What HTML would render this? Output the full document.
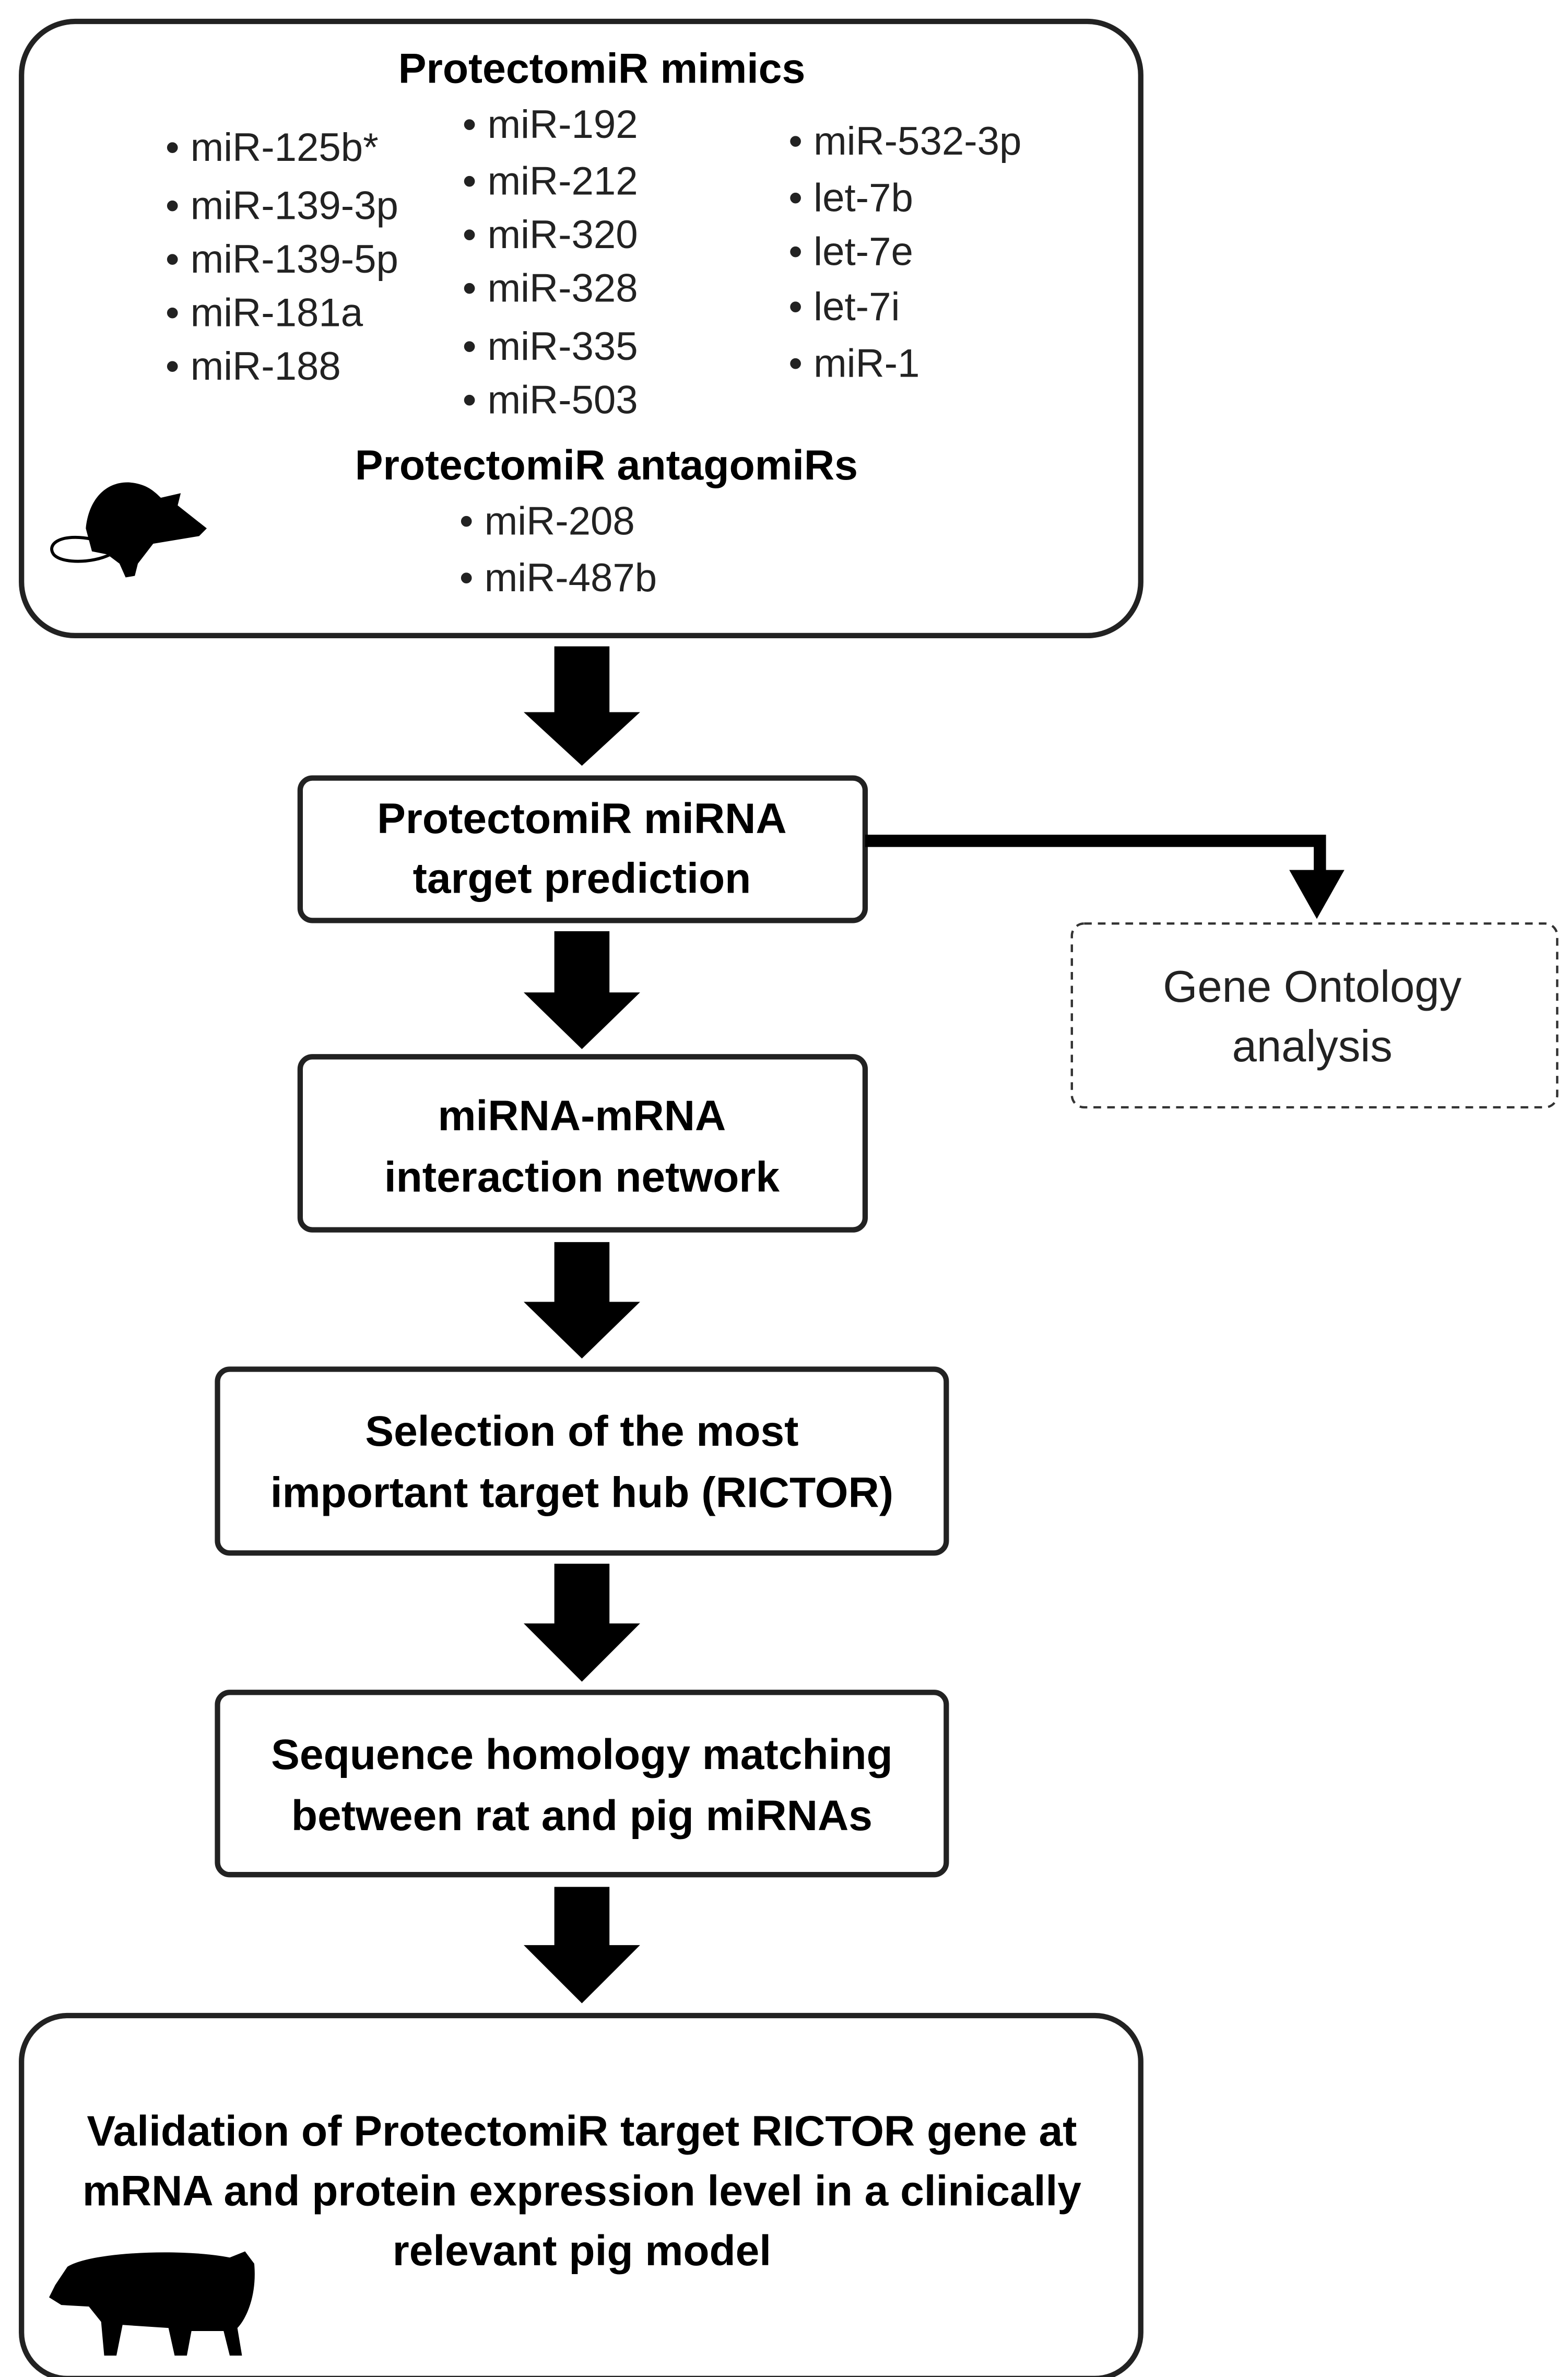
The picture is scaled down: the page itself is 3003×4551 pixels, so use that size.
<!DOCTYPE html>
<html><head><meta charset="utf-8"><style>
html,body{margin:0;padding:0;background:#fff;}
svg{display:block;}
text{font-family:"Liberation Sans",sans-serif;fill:#000;}
.b{font-weight:bold;font-size:28px;}
.h{font-weight:bold;font-size:27.5px;}
.n{font-size:26px;fill:#222;}
</style></head><body>
<svg width="3003" height="4551" viewBox="0 0 1024 1552" xmlns="http://www.w3.org/2000/svg">
<rect width="1024" height="1552" fill="#fff"/>
<rect x="14" y="14" width="731" height="401" rx="35" fill="#fff" stroke="#222" stroke-width="3.5"/>
<text class="h" x="393" y="54" text-anchor="middle">ProtectomiR mimics</text>
<text class="n" x="108" y="105">• miR-125b*</text>
<text class="n" x="108" y="143">• miR-139-3p</text>
<text class="n" x="108" y="178">• miR-139-5p</text>
<text class="n" x="108" y="213">• miR-181a</text>
<text class="n" x="108" y="248">• miR-188</text>
<text class="n" x="302" y="90">• miR-192</text>
<text class="n" x="302" y="127">• miR-212</text>
<text class="n" x="302" y="162">• miR-320</text>
<text class="n" x="302" y="197">• miR-328</text>
<text class="n" x="302" y="235">• miR-335</text>
<text class="n" x="302" y="270">• miR-503</text>
<text class="n" x="515" y="101">• miR-532-3p</text>
<text class="n" x="515" y="138">• let-7b</text>
<text class="n" x="515" y="173">• let-7e</text>
<text class="n" x="515" y="209">• let-7i</text>
<text class="n" x="515" y="246">• miR-1</text>
<text class="h" x="396" y="313" text-anchor="middle">ProtectomiR antagomiRs</text>
<text class="n" x="300" y="349">• miR-208</text>
<text class="n" x="300" y="386">• miR-487b</text>
<g fill="#000">
<path d="M56 345 C58 325 70 314 85 315 C95 316 100 320 105 325 L118 322 L116 330 L135 345 L130 350 L100 355 L90 368 L88 376 L82 377 L78 368 L70 362 L60 360 Z"/>
<path d="M60 352 C40 348 30 355 35 362 C40 368 60 368 72 362" fill="none" stroke="#000" stroke-width="2"/>
</g>
<g fill="#000">
<polygon points="362,422 398,422 398,465 418,465 380,500 342,465 362,465"/>
<polygon points="362,608 398,608 398,648 418,648 380,685 342,648 362,648"/>
<polygon points="362,811 398,811 398,850 418,850 380,887 342,850 362,850"/>
<polygon points="362,1021 398,1021 398,1060 418,1060 380,1098 342,1060 362,1060"/>
<polygon points="362,1232 398,1232 398,1270 418,1270 380,1308 342,1270 362,1270"/>
</g>
<rect x="196" y="508" width="369" height="93" rx="8" fill="#fff" stroke="#222" stroke-width="3.5"/>
<text class="b" x="380" y="544" text-anchor="middle">ProtectomiR miRNA</text>
<text class="b" x="380" y="583" text-anchor="middle">target prediction</text>
<polyline points="565,549 862,549 862,572" fill="none" stroke="#000" stroke-width="8"/>
<polygon points="842,568 878,568 860,600" fill="#000"/>
<rect x="700" y="603" width="317" height="120" rx="8" fill="#fff" stroke="#333" stroke-width="1.5" stroke-dasharray="5,4"/>
<text x="857" y="654" text-anchor="middle" style="font-size:29px;fill:#222">Gene Ontology</text>
<text x="857" y="693" text-anchor="middle" style="font-size:29px;fill:#222">analysis</text>
<rect x="196" y="690" width="369" height="113" rx="8" fill="#fff" stroke="#222" stroke-width="3.5"/>
<text class="b" x="380" y="738" text-anchor="middle">miRNA-mRNA</text>
<text class="b" x="380" y="778" text-anchor="middle">interaction network</text>
<rect x="142" y="894" width="476" height="120" rx="8" fill="#fff" stroke="#222" stroke-width="3.5"/>
<text class="b" x="380" y="944" text-anchor="middle">Selection of the most</text>
<text class="b" x="380" y="984" text-anchor="middle">important target hub (RICTOR)</text>
<rect x="142" y="1105" width="476" height="119" rx="8" fill="#fff" stroke="#222" stroke-width="3.5"/>
<text class="b" x="380" y="1155" text-anchor="middle">Sequence homology matching</text>
<text class="b" x="380" y="1195" text-anchor="middle">between rat and pig miRNAs</text>
<rect x="14" y="1316" width="731" height="237" rx="30" fill="#fff" stroke="#222" stroke-width="3.5"/>
<text class="b" x="380" y="1401" text-anchor="middle">Validation of ProtectomiR target RICTOR gene at</text>
<text class="b" x="380" y="1440" text-anchor="middle">mRNA and protein expression level in a clinically</text>
<text class="b" x="380" y="1479" text-anchor="middle">relevant pig model</text>
<path d="M36 1492 L44 1480 C60 1470 120 1468 150 1474 L160 1470 L166 1478 C168 1500 160 1515 155 1520 L158 1538 L150 1538 L146 1522 L125 1522 L122 1538 L114 1538 L110 1520 L80 1518 L76 1538 L68 1538 L66 1516 L58 1506 L40 1505 L32 1500 Z" fill="#000"/>
</svg>
</body></html>
